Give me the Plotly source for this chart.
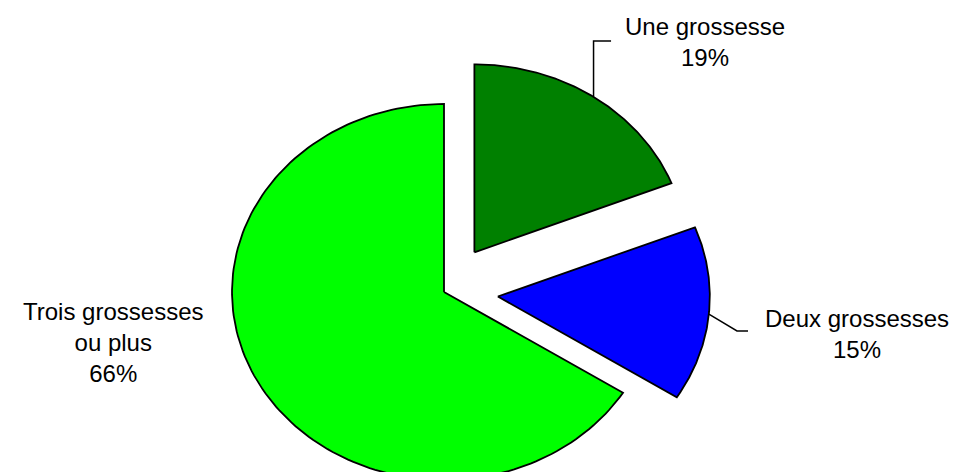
import numpy as np
import plotly.graph_objects as go

# Data
labels = ["Une grossesse", "Deux grossesses", "Trois grossesses<br>ou plus"]
values = [19, 15, 66]
colors = ["#008000", "#0000ff", "#00ff00"]
pull = [0.255, 0.255, 0.0]  # exploded slices, fraction of radius

# label placement (data units, radius = 1)
label_pos = [(1.231, 1.330), (1.948, -0.223), (-1.561, -0.271)]
# leader line elbow / end points (None = no leader)
leaders = [
    [("start", 1.335), (0.788, 1.335)],
    [(1.382, -0.207), (1.434, -0.207)],
    None,
]

FONT = dict(family="Liberation Sans, Arial, sans-serif", size=24, color="#000000")

fig = go.Figure()
total = sum(values)
start = 0.0
for lab, val, col, p, lp, ld in zip(labels, values, colors, pull, label_pos, leaders):
    a0 = start
    a1 = start + val / total * 2 * np.pi
    start = a1
    mid = (a0 + a1) / 2
    ox, oy = p * np.sin(mid), p * np.cos(mid)
    t = np.linspace(a0, a1, 150)
    xs = np.concatenate([[ox], ox + np.sin(t), [ox]])
    ys = np.concatenate([[oy], oy + np.cos(t), [oy]])
    fig.add_trace(go.Scatter(
        x=xs, y=ys, mode="lines", fill="toself", fillcolor=col,
        line=dict(color="black", width=1.8), hoverinfo="skip", showlegend=False
    ))

    # leader line from arc at mid-angle
    if ld:
        sx, sy = ox + np.sin(mid), oy + np.cos(mid)
        lx, ly = [sx], [sy]
        for px, py in ld:
            lx.append(sx if px == "start" else px)
            ly.append(py)
        fig.add_trace(go.Scatter(
            x=lx, y=ly, mode="lines", line=dict(color="black", width=1.5),
            hoverinfo="skip", showlegend=False
        ))

    fig.add_annotation(
        x=lp[0], y=lp[1], xref="x", yref="y", text=f"{lab}<br>{val}%",
        showarrow=False, font=FONT, align="center"
    )

# page body has an 8px margin, so the plot origin sits at (8, 8)
fig.update_layout(
    width=962, height=472,
    margin=dict(l=0, r=0, t=0, b=0),
    paper_bgcolor="white", plot_bgcolor="white",
    xaxis=dict(range=[-2.0566, 2.4811], visible=False, fixedrange=True),
    yaxis=dict(range=[-1.0, 1.5106], visible=False, fixedrange=True),
)

fig.write_html("out.html")
